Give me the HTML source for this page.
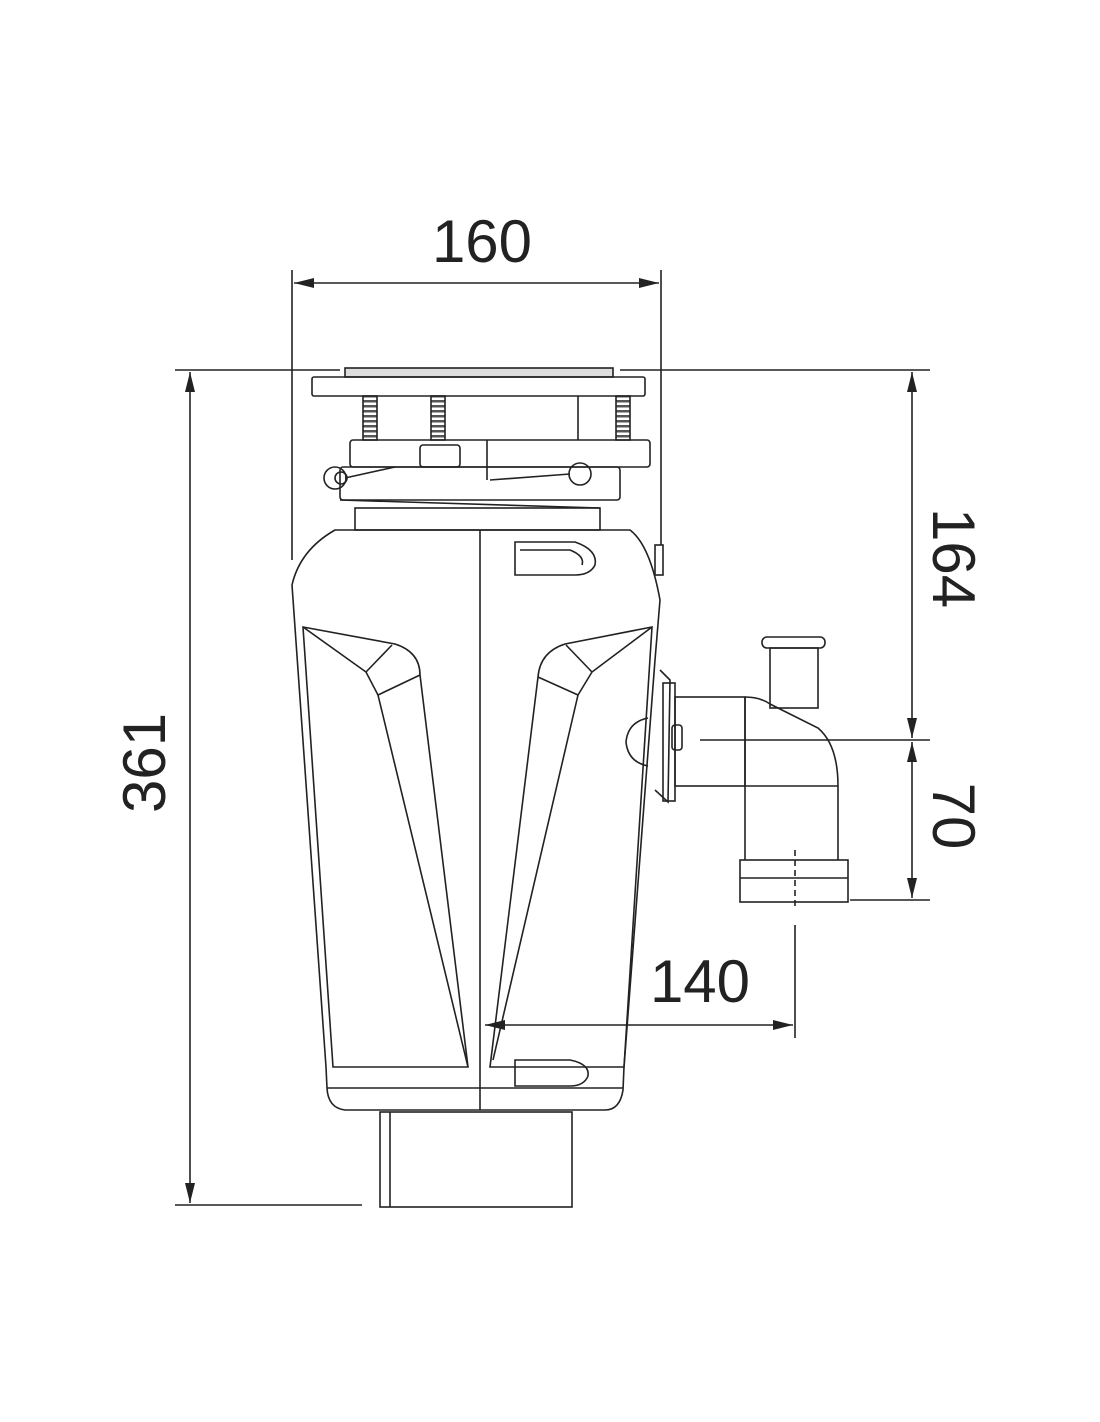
<!DOCTYPE html>
<html><head><meta charset="utf-8"><style>
html,body{margin:0;padding:0;background:#fff}
svg{display:block}
text{font-family:"Liberation Sans",Arial,sans-serif;fill:#222}
</style></head><body>
<svg width="1100" height="1422" viewBox="0 0 1100 1422" xmlns="http://www.w3.org/2000/svg">
<defs>
<marker id="a" viewBox="0 0 20 10" refX="20" refY="5" markerWidth="20" markerHeight="10" markerUnits="userSpaceOnUse" orient="auto-start-reverse"><path d="M0,0 L20,5 L0,10 Z" fill="#222"/></marker>
<pattern id="th" width="14" height="5" patternUnits="userSpaceOnUse"><rect width="14" height="5" fill="#fff"/><rect y="0" width="14" height="2.5" fill="#555"/></pattern>
</defs>
<g stroke="#222" stroke-width="1.6" fill="none">
<line x1="292" y1="270" x2="292" y2="560"/>
<line x1="661" y1="270" x2="661" y2="545"/>
<line x1="294" y1="283" x2="659" y2="283" marker-start="url(#a)" marker-end="url(#a)"/>
<line x1="175" y1="370" x2="340" y2="370"/>
<line x1="175" y1="1205" x2="362" y2="1205"/>
<line x1="190" y1="372" x2="190" y2="1203" marker-start="url(#a)" marker-end="url(#a)"/>
<line x1="620" y1="370" x2="930" y2="370"/>
<line x1="700" y1="740" x2="930" y2="740"/>
<line x1="850" y1="900" x2="930" y2="900"/>
<line x1="912" y1="372" x2="912" y2="738" marker-start="url(#a)" marker-end="url(#a)"/>
<line x1="912" y1="742" x2="912" y2="898" marker-start="url(#a)" marker-end="url(#a)"/>
<line x1="795" y1="925" x2="795" y2="1038"/>
<line x1="485" y1="1025" x2="793" y2="1025" marker-start="url(#a)" marker-end="url(#a)"/>
<line x1="795" y1="850" x2="795" y2="910" stroke-dasharray="6 4"/>

<rect x="345" y="368" width="268" height="9" fill="#ddd"/>
<rect x="312" y="377" width="333" height="19" rx="2"/>
<rect x="363" y="396" width="14" height="44" fill="url(#th)"/>
<rect x="431" y="396" width="14" height="44" fill="url(#th)"/>
<rect x="616" y="396" width="14" height="44" fill="url(#th)"/>
<line x1="578" y1="396" x2="578" y2="440"/>
<rect x="350" y="440" width="300" height="27" rx="3"/>
<rect x="420" y="445" width="40" height="22" rx="3"/>
<line x1="487" y1="440" x2="487" y2="480"/>
<rect x="340" y="467" width="280" height="33" rx="3"/>
<circle cx="335" cy="478" r="11"/>
<circle cx="341" cy="478" r="6"/>
<line x1="345" y1="478" x2="395" y2="467"/>
<circle cx="580" cy="474" r="11"/>
<line x1="490" y1="480" x2="570" y2="474"/>
<rect x="355" y="508" width="245" height="22"/>
<line x1="340" y1="500" x2="600" y2="508"/>

<path d="M335,530 L630,530 Q650,545 660,600 L655,660 L624,1067 L623,1090 Q620,1110 605,1110 L345,1110 Q328,1108 327,1088 L326,1067 L292,585 Q300,550 335,530 Z"/>
<line x1="480" y1="530" x2="480" y2="1110"/>
<line x1="327" y1="1088" x2="623" y2="1088"/>
<rect x="380" y="1112" width="192" height="95"/>
<line x1="390" y1="1112" x2="390" y2="1207"/>
<path d="M515,542 L575,542 Q598,550 595,565 Q590,575 575,575 L515,575 Z"/>
<path d="M520,550 L570,550 Q585,556 582,565"/>
<path d="M515,1060 L570,1060 Q590,1064 588,1076 Q584,1086 570,1086 L515,1086 Z"/>
<path d="M303,627 L395,644 Q420,652 420,675 L468,1067 L333,1067 Z"/>
<path d="M303,627 L366,672 L378,695 L468,1067"/>
<line x1="366" y1="672" x2="392" y2="645"/>
<line x1="378" y1="695" x2="420" y2="675"/>
<path d="M652,627 L565,644 Q540,652 538,677 L490,1067 L624,1067 Z"/>
<path d="M652,627 L592,672 L578,695 L493,1060"/>
<line x1="592" y1="672" x2="566" y2="645"/>
<line x1="578" y1="695" x2="538" y2="677"/>
<rect x="655" y="545" width="8" height="30"/>
<path d="M660,670 L670,680 L668,802 L655,790"/>
<rect x="663" y="683" width="12" height="118"/>
<path d="M648,718 Q628,722 626,742 Q628,762 648,766"/>
<rect x="672" y="725" width="10" height="25" rx="3"/>
<rect x="675" y="697" width="70" height="89"/>
<line x1="745" y1="697" x2="745" y2="860"/>
<path d="M745,697 Q760,697 770,704 L818,728 Q838,745 838,786 L838,860"/>
<rect x="770" y="648" width="48" height="60"/>
<rect x="762" y="637" width="63" height="11" rx="5"/>
<line x1="745" y1="786" x2="838" y2="786"/>
<rect x="740" y="860" width="108" height="42"/>
<line x1="740" y1="878" x2="848" y2="878"/>
</g>
<text x="482" y="262" font-size="60" text-anchor="middle">160</text>
<text x="700" y="1002" font-size="60" text-anchor="middle">140</text>
<text transform="translate(165,763) rotate(-90)" font-size="60" text-anchor="middle">361</text>
<text transform="translate(933,558) rotate(90)" font-size="60" text-anchor="middle">164</text>
<text transform="translate(933,816) rotate(90)" font-size="60" text-anchor="middle">70</text>
</svg>
</body></html>
